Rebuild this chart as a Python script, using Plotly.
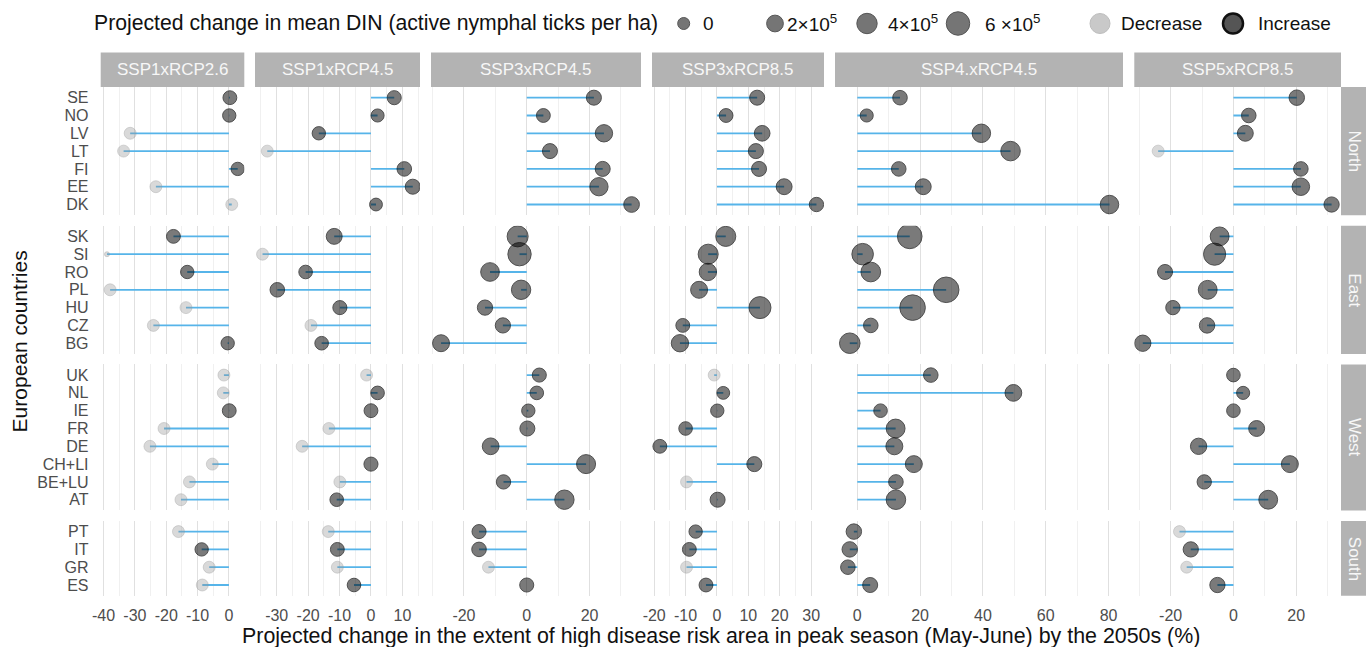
import math
import plotly.graph_objects as go

# ---------------- data ----------------
scenarios = ["SSP1xRCP2.6", "SSP1xRCP4.5", "SSP3xRCP4.5", "SSP3xRCP8.5", "SSP4.xRCP4.5", "SSP5xRCP8.5"]
regions = ["North", "East", "West", "South"]
north = ["SE", "NO", "LV", "LT", "FI", "EE", "DK"]
east = ["SK", "SI", "RO", "PL", "HU", "CZ", "BG"]
west = ["UK", "NL", "IE", "FR", "DE", "CH+LI", "BE+LU", "AT"]
south = ["PT", "IT", "GR", "ES"]
region_countries = [north, east, west, south]

# Projected change in extent of high disease risk area (%), countries listed north+east+west+south (top to bottom)
area_ssp1_26 = [0.3, 0.1, -31.5, -33.6, 2.8, -23.3, 0.9,
                -17.7, -38.9, -13.3, -37.9, -13.7, -24.1, -0.4,
                -1.6, -1.8, 0.1, -20.7, -25.2, -5.3, -12.6, -15.3,
                -16.1, -8.7, -6.3, -8.5]
area_ssp1_45 = [7.4, 2.1, -16.6, -33.0, 10.6, 13.3, 1.6,
                -11.7, -34.5, -20.8, -29.8, -9.9, -19.1, -15.7,
                -1.4, 2.1, 0.0, -13.4, -21.9, 0.0, -9.9, -10.9,
                -13.6, -10.7, -10.7, -5.4]
area_ssp3_45 = [21.4, 5.3, 24.6, 7.4, 24.2, 23.0, 33.4,
                -2.9, -2.3, -11.7, -1.8, -13.3, -7.6, -27.3,
                4.0, 3.2, 0.5, 0.2, -11.5, 18.9, -7.4, 12.0,
                -15.2, -15.2, -12.2, 0.0]
area_ssp3_85 = [12.8, 2.9, 14.4, 12.4, 13.4, 21.4, 31.7,
                2.8, -2.8, -2.9, -5.7, 13.7, -10.9, -11.8,
                -0.9, 2.0, 0.1, -10.0, -18.2, 11.9, -9.7, 0.2,
                -6.8, -8.8, -9.7, -3.5]
area_ssp4_45 = [13.6, 3.0, 39.5, 48.8, 13.2, 21.0, 80.3,
                16.7, 1.7, 4.3, 28.3, 17.6, 4.3, -2.4,
                23.4, 49.7, 7.4, 12.2, 11.8, 18.0, 12.3, 12.3,
                -1.1, -2.4, -3.0, 4.1]
area_ssp5_85 = [20.2, 4.9, 3.8, -24.0, 21.5, 21.5, 31.3,
                -4.4, -6.0, -21.8, -8.2, -19.3, -8.4, -28.9,
                0.0, 3.1, 0.0, 7.4, -11.1, 18.0, -9.3, 11.1,
                -17.2, -13.6, -14.9, -5.1]

# Projected change in mean DIN (active nymphal ticks per ha), in units of 1e5
din_ssp1_26 = [0.7, 0.5, -0.02, -0.02, 0.5, -0.02, -0.02,
               0.7, -1.75, 0.5, -0.02, -0.02, -0.02, 0.5,
               -0.02, -0.02, 0.7, -0.02, -0.02, -0.02, -0.02, -0.02,
               -0.02, 0.5, -0.02, -0.02]
din_ssp1_45 = [0.8, 0.4, 0.5, -0.02, 1.0, 1.2, 0.3,
               1.6, -0.02, 0.6, 1.0, 0.8, -0.02, 0.6,
               -0.02, 0.6, 0.7, -0.02, -0.02, 0.8, -0.02, 0.6,
               -0.02, 0.7, -0.02, 0.6]
din_ssp3_45 = [1.2, 0.7, 2.3, 1.2, 1.2, 2.8, 1.5,
               4.4, 5.9, 3.0, 3.4, 1.3, 1.3, 2.1,
               0.8, 0.6, 0.5, 1.2, 2.0, 3.2, 0.9, 3.4,
               0.8, 1.0, -0.02, 0.8]
din_ssp3_85 = [1.2, 0.7, 1.5, 1.2, 1.2, 1.6, 0.9,
               3.8, 3.8, 2.3, 2.1, 5.0, 0.7, 2.3,
               -0.02, 0.3, 0.5, 0.6, 0.7, 1.2, -0.02, 1.2,
               0.5, 0.7, -0.02, 0.7]
din_ssp4_45 = [1.0, 0.4, 2.9, 3.5, 1.0, 1.6, 2.9,
               6.8, 4.7, 3.6, 7.5, 7.5, 1.0, 4.1,
               1.0, 2.0, 0.6, 3.1, 2.1, 2.1, 1.0, 3.5,
               1.4, 1.4, 1.0, 1.2]
din_ssp5_85 = [1.4, 1.0, 1.6, -0.02, 1.0, 2.4, 1.3,
               3.1, 5.1, 1.2, 3.1, 0.9, 1.4, 1.8,
               0.6, 0.4, 0.6, 1.6, 1.8, 2.1, 0.9, 3.1,
               -0.02, 1.3, -0.02, 1.3]

area_values = [area_ssp1_26, area_ssp1_45, area_ssp3_45, area_ssp3_85, area_ssp4_45, area_ssp5_85]
din_values = [din_ssp1_26, din_ssp1_45, din_ssp3_45, din_ssp3_85, din_ssp4_45, din_ssp5_85]

size_legend_breaks = [0, 2, 4, 6]
size_legend_labels = ["0", "2×10<sup>5</sup>", "4×10<sup>5</sup>", "6 ×10<sup>5</sup>"]

# ---------------- layout constants ----------------
W, H = 1366, 647
FONT = "Liberation Sans, Arial, sans-serif"


def fx(p):
    return p / W


def fy(p):
    return 1 - p / H


def size_scale(d):
    # area-proportional size scale (diameter in px)
    return max(144 + 68 * d, 4) ** 0.5


col_px = [(100.7, 244.3), (255.0, 420.0), (431.0, 641.0), (652.0, 824.0), (835.0, 1123.0), (1134.3, 1341.0)]
col_ranges = [(-40.9, 4.9), (-36.9, 15.6), (-30.5, 36.4), (-20.7, 34.1), (-7.1, 84.6), (-31.6, 34.3)]
major_dtick = [10, 10, 20, 10, 20, 20]
minor_dtick = [5, 5, 10, 5, 10, 10]
row_px = [(87.0, 215.2), (225.7, 353.9), (364.4, 510.4), (520.9, 595.7)]

SEG = "#56B4E9"
INC_FILL = "rgba(0,0,0,0.74)"
INC_LINE = "rgba(0,0,0,0.95)"
DEC_FILL = "rgba(150,150,150,0.5)"
DEC_LINE = "rgba(150,150,150,0.55)"


def major_ticks(lo, hi, step):
    k0 = math.ceil(lo / step)
    k1 = math.floor(hi / step)
    return [k * step for k in range(k0, k1 + 1)]


fig = go.Figure()
layout = dict(template="none", width=W, height=H, autosize=False,
              margin=dict(l=0, r=0, t=0, b=0, pad=0, autoexpand=False),
              paper_bgcolor="white", plot_bgcolor="white", showlegend=False,
              font=dict(family=FONT, color="#1a1a1a"))
shapes = []
annotations = []

offsets = [0, 7, 14, 22]
for r, countries in enumerate(region_countries):
    start = offsets[r]
    n_c = len(countries)
    for c in range(6):
        n = r * 6 + c + 1
        sfx = "" if n == 1 else str(n)
        xs = area_values[c][start:start + n_c]
        ds = din_values[c][start:start + n_c]
        seg_x, seg_y = [], []
        for cty, v in zip(countries, xs):
            seg_x += [0, v, None]
            seg_y += [cty, cty, None]
        fig.add_trace(go.Scatter(x=seg_x, y=seg_y, mode="lines",
                                 line=dict(color=SEG, width=1.8),
                                 xaxis="x" + sfx, yaxis="y" + sfx, hoverinfo="skip"))
        inc = [d >= 0 for d in ds]
        fig.add_trace(go.Scatter(
            x=xs, y=countries, mode="markers",
            marker=dict(size=[size_scale(d) for d in ds],
                        color=[INC_FILL if i else DEC_FILL for i in inc],
                        line=dict(color=[INC_LINE if i else DEC_LINE for i in inc], width=1)),
            xaxis="x" + sfx, yaxis="y" + sfx))
        tv = major_ticks(col_ranges[c][0], col_ranges[c][1], major_dtick[c])
        layout["xaxis" + sfx] = dict(
            domain=[fx(col_px[c][0]), fx(col_px[c][1])], range=list(col_ranges[c]),
            anchor="y" + sfx, tickmode="array", tickvals=tv, ticktext=[str(v) for v in tv],
            showgrid=True, gridcolor="#E0E0E0", gridwidth=1.1,
            minor=dict(tick0=0, dtick=minor_dtick[c], showgrid=True, gridcolor="#F0F0F0", gridwidth=1),
            zeroline=False, showline=False, automargin=False,
            showticklabels=(r == 3), ticks="outside" if r == 3 else "", ticklen=5,
            tickcolor="rgba(0,0,0,0)", tickfont=dict(family=FONT, size=16, color="#4D4D4D"),
            fixedrange=True)
        layout["yaxis" + sfx] = dict(
            domain=[fy(row_px[r][1]), fy(row_px[r][0])], type="category",
            categoryorder="array", categoryarray=list(reversed(countries)),
            tickmode="array", tickvals=countries, ticktext=countries,
            range=[-0.6, n_c - 0.4], anchor="x" + sfx, showgrid=False, zeroline=False,
            showline=False, automargin=False, showticklabels=(c == 0),
            ticks="outside" if c == 0 else "",
            ticklen=8, tickcolor="rgba(0,0,0,0)",
            tickfont=dict(family=FONT, size=16, color="#4D4D4D"), fixedrange=True)

# column strips
for c, name in enumerate(scenarios):
    x0, x1 = col_px[c]
    shapes.append(dict(type="rect", xref="paper", yref="paper", x0=fx(x0), x1=fx(x1),
                       y0=fy(87.0), y1=fy(52.6), fillcolor="#B3B3B3", line=dict(width=0)))
    annotations.append(dict(xref="paper", yref="paper", x=fx((x0 + x1) / 2), y=fy(69.8),
                            text=name, showarrow=False, xanchor="center", yanchor="middle",
                            font=dict(family=FONT, size=17, color="#F7F7F7")))
# row strips
for r, name in enumerate(regions):
    y0, y1 = row_px[r]
    shapes.append(dict(type="rect", xref="paper", yref="paper", x0=fx(1341.0), x1=fx(1370.0),
                       y0=fy(y1), y1=fy(y0), fillcolor="#B3B3B3", line=dict(width=0)))
    annotations.append(dict(xref="paper", yref="paper", x=fx(1354.5), y=fy((y0 + y1) / 2),
                            text=name, showarrow=False, textangle=90, xanchor="center", yanchor="middle",
                            font=dict(family=FONT, size=17, color="#F7F7F7")))

# axis titles
annotations.append(dict(xref="paper", yref="paper", x=fx((100.7 + 1341.0) / 2), y=fy(636.0),
                        text="Projected change in the extent of high disease risk area in peak season (May-June) by the 2050s (%)",
                        showarrow=False, xanchor="center", yanchor="middle",
                        font=dict(family=FONT, size=21.4, color="#111111")))
annotations.append(dict(xref="paper", yref="paper", x=fx(19.0), y=fy(341.4),
                        text="European countries", showarrow=False, textangle=-90,
                        xanchor="center", yanchor="middle",
                        font=dict(family=FONT, size=21, color="#111111")))

# legend
LEG_Y = 23.5
annotations.append(dict(xref="paper", yref="paper", x=fx(92.0), y=fy(LEG_Y),
                        text="Projected change in mean DIN (active nymphal ticks per ha)",
                        showarrow=False, xanchor="left", yanchor="middle",
                        font=dict(family=FONT, size=21.2, color="#111111")))
leg_cx = [683.7, 775.0, 867.0, 958.0]
leg_tx = [701.0, 784.5, 885.5, 983.0]
for b, lab, cx, tx in zip(size_legend_breaks, size_legend_labels, leg_cx, leg_tx):
    rad = size_scale(b) / 2
    shapes.append(dict(type="circle", xref="paper", yref="paper",
                       x0=fx(cx - rad), x1=fx(cx + rad), y0=fy(LEG_Y + rad), y1=fy(LEG_Y - rad),
                       fillcolor="#757575", line=dict(color="#555555", width=1)))
    annotations.append(dict(xref="paper", yref="paper", x=fx(tx), y=fy(LEG_Y),
                            text=lab, showarrow=False, xanchor="left", yanchor="middle",
                            font=dict(family=FONT, size=19, color="#111111")))
for cx, tx, lab, fill, lc, lw in [(1100.0, 1119.0, "Decrease", "#C9C9C9", "#BDBDBD", 1),
                                  (1233.0, 1256.0, "Increase", "#555555", "#111111", 2.5)]:
    rad = 10
    shapes.append(dict(type="circle", xref="paper", yref="paper",
                       x0=fx(cx - rad), x1=fx(cx + rad), y0=fy(LEG_Y + rad), y1=fy(LEG_Y - rad),
                       fillcolor=fill, line=dict(color=lc, width=lw)))
    annotations.append(dict(xref="paper", yref="paper", x=fx(tx), y=fy(LEG_Y),
                            text=lab, showarrow=False, xanchor="left", yanchor="middle",
                            font=dict(family=FONT, size=19, color="#111111")))

layout["shapes"] = shapes
layout["annotations"] = annotations
fig.update_layout(**layout)
fig.write_html("out.html", config={"displayModeBar": False},
               post_script="document.body.style.margin='0';document.body.style.overflow='hidden';")
